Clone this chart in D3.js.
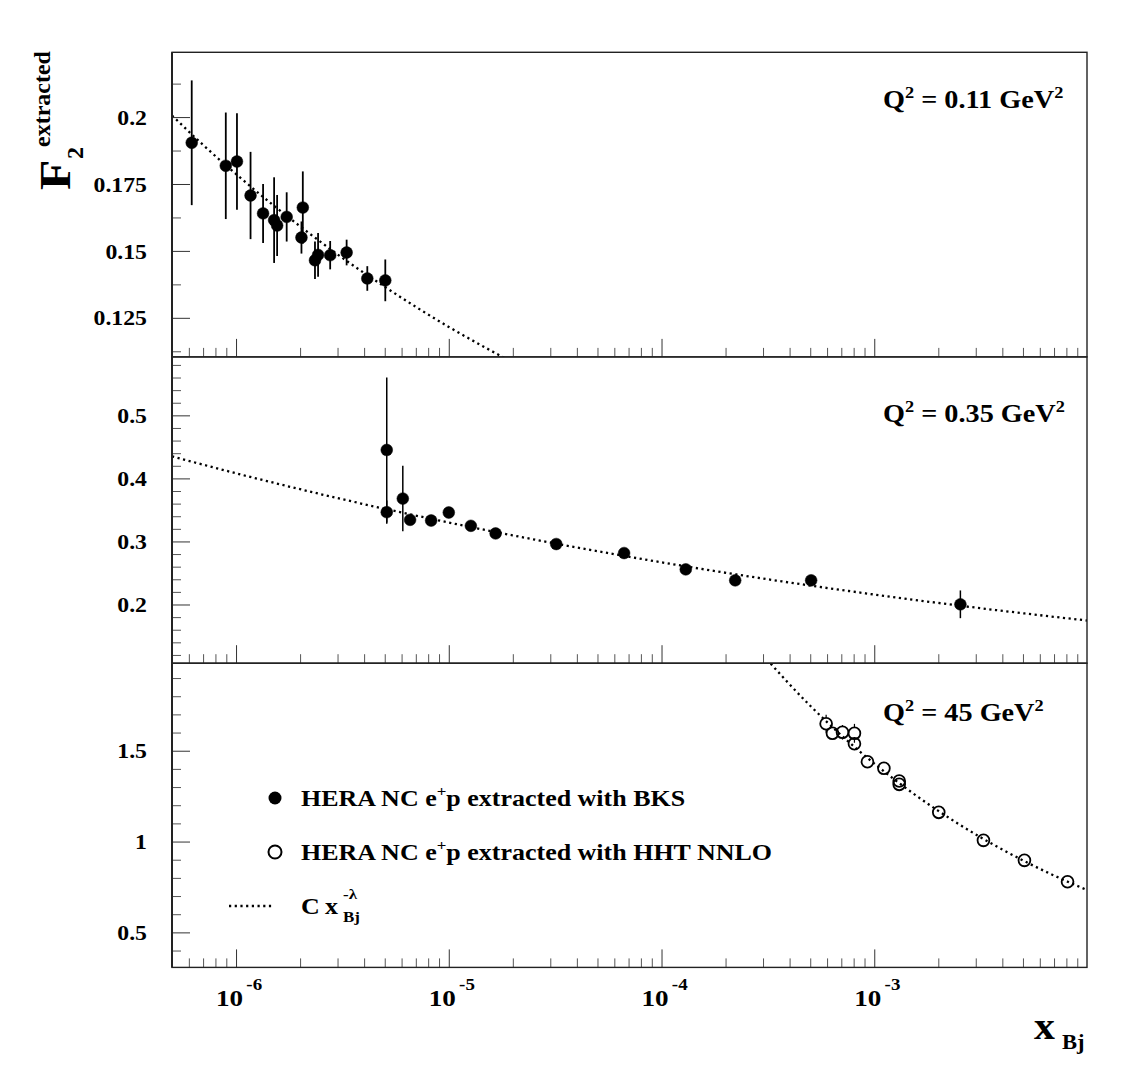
<!DOCTYPE html>
<html><head><meta charset="utf-8">
<script src="https://cdn.jsdelivr.net/npm/d3@7"></script>
<style>
body{margin:0;background:#fff}
text{font-family:"Liberation Serif","Times New Roman",serif;font-weight:bold;fill:#000}
</style>
</head><body>
<svg id="c" width="1121" height="1075"></svg>
<script>
// ---------------- data ----------------
const q2Values = ["0.11", "0.35", "45"];

// Q^2 = 0.11 GeV^2, BKS extraction (filled)
const bksLowX   = [6.19e-7, 8.95e-7, 1.01e-6, 1.17e-6, 1.34e-6, 1.51e-6, 1.56e-6, 1.73e-6, 2.06e-6, 2.03e-6, 2.35e-6, 2.43e-6, 2.77e-6, 3.31e-6, 4.14e-6, 5.03e-6];
const bksLowF   = [0.1904, 0.1818, 0.1834, 0.1707, 0.1640, 0.1615, 0.1595, 0.1627, 0.1662, 0.1550, 0.1465, 0.1485, 0.1484, 0.1494, 0.1397, 0.1390];
const bksLowErr = [0.0233, 0.0199, 0.0180, 0.0163, 0.0110, 0.0160, 0.0114, 0.0092, 0.0135, 0.0060, 0.0070, 0.0082, 0.0053, 0.0048, 0.0046, 0.0078];

// Q^2 = 0.35 GeV^2, BKS extraction (filled)
const bksMidX   = [5.11e-6, 5.11e-6, 6.08e-6, 6.58e-6, 8.26e-6, 1.00e-5, 1.27e-5, 1.66e-5, 3.20e-5, 6.67e-5, 1.30e-4, 2.22e-4, 5.05e-4, 2.54e-3];
const bksMidF   = [0.4451, 0.3465, 0.3680, 0.3343, 0.3332, 0.3459, 0.3248, 0.3127, 0.2959, 0.2816, 0.2557, 0.2383, 0.2383, 0.2003];
const bksMidErr = [0.115, 0.0185, 0.052, 0.006, 0.005, 0.006, 0.005, 0.005, 0.008, 0.006, 0.005, 0.005, 0.006, 0.022];

// Q^2 = 45 GeV^2, HHT NNLO extraction (open)
const hhtX   = [5.94e-4, 6.36e-4, 7.09e-4, 8.07e-4, 8.07e-4, 9.29e-4, 1.11e-3, 1.31e-3, 1.31e-3, 2.01e-3, 3.26e-3, 5.08e-3, 8.10e-3];
const hhtF   = [1.6487, 1.5958, 1.6013, 1.5958, 1.5385, 1.4394, 1.4031, 1.3331, 1.3150, 1.1608, 1.0066, 0.8965, 0.7786];
const hhtErr = [0.050, 0.030, 0.040, 0.052, 0.035, 0.025, 0.020, 0.020, 0.020, 0.020, 0.020, 0.020, 0.020];

// C x^-lambda curves
const fitLowX  = [5e-7, 7e-7, 1e-6, 1.5e-6, 2e-6, 3e-6, 5e-6, 7e-6, 1e-5, 1.5e-5, 2e-5];
const fitLowF  = [0.2006, 0.1896, 0.1787, 0.1670, 0.1592, 0.1487, 0.1366, 0.1291, 0.1216, 0.1137, 0.1083];
const fitMidX  = [5e-7, 1e-6, 3.16e-6, 1e-5, 3.16e-5, 1e-4, 3.16e-4, 1e-3, 3.16e-3, 1e-2];
const fitMidF  = [0.435, 0.4081, 0.3670, 0.3300, 0.2968, 0.2669, 0.2400, 0.2158, 0.1941, 0.1746];
const fitHighX = [3e-4, 5e-4, 7e-4, 1e-3, 1.5e-3, 2e-3, 3.16e-3, 5e-3, 7e-3, 1e-2];
const fitHighF = [2.026, 1.7475, 1.585, 1.4292, 1.2707, 1.169, 1.0236, 0.8962, 0.8129, 0.733];

// axis ticks
const xDomain = [5e-7, 1e-2];
const xMajorTicks = [1e-6, 1e-5, 1e-4, 1e-3];
const xTickExponents = ["-6", "-5", "-4", "-3"];
const yLowDomain  = [0.1104, 0.2242];
const yMidDomain  = [0.1069, 0.5927];
const yHighDomain = [0.3072, 1.9818];
const yLowTicks  = [0.125, 0.15, 0.175, 0.2];
const yLowLabels = ["0.125", "0.15", "0.175", "0.2"];
const yMidTicks  = [0.2, 0.3, 0.4, 0.5];
const yMidLabels = ["0.2", "0.3", "0.4", "0.5"];
const yHighTicks  = [0.5, 1, 1.5];
const yHighLabels = ["0.5", "1", "1.5"];
const yLowMinor  = [0.1125, 0.1375, 0.1625, 0.1875, 0.2125];
const yMidMinor  = [0.12,0.14,0.16,0.18,0.22,0.24,0.26,0.28,0.32,0.34,0.36,0.38,0.42,0.44,0.46,0.48,0.52,0.54,0.56,0.58];
const yHighMinor = [0.4,0.6,0.7,0.8,0.9,1.1,1.2,1.3,1.4,1.6,1.7,1.8,1.9];
const xMinorMantissas = [2,3,4,5,6,7,8,9];
const xMinorDecades = [-7,-6,-5,-4,-3];

const legendLabels = ["HERA NC e", "+", "p extracted with BKS", "p extracted with HHT NNLO"];

// ---------------- layout ----------------
const SX = 1.13;               // horizontal stretch of the original's font
const L = 172, R = 1087;
const panelTop = [52.3, 356.9, 663.2];
const panelBot = [356.9, 663.2, 967.4];
const qLabelBase = [108, 422, 721];

const svg = d3.select("#c");
svg.append("rect").attr("width",1121).attr("height",1075).attr("fill","#fff");

const x = d3.scaleLog().domain(xDomain).range([L, R]);

const zip = (a,b,c) => a.map((v,i)=>({x:v, f:b[i], e: c ? c[i] : 0}));

const panels = [
  {dom:yLowDomain, ticks:yLowTicks, labels:yLowLabels, minor:yLowMinor,
   pts:zip(bksLowX,bksLowF,bksLowErr), open:false, fit:zip(fitLowX,fitLowF)},
  {dom:yMidDomain, ticks:yMidTicks, labels:yMidLabels, minor:yMidMinor,
   pts:zip(bksMidX,bksMidF,bksMidErr), open:false, fit:zip(fitMidX,fitMidF)},
  {dom:yHighDomain, ticks:yHighTicks, labels:yHighLabels, minor:yHighMinor,
   pts:zip(hhtX,hhtF,hhtErr), open:true, fit:zip(fitHighX,fitHighF)}
];

const xMinor = [];
xMinorDecades.forEach(d => xMinorMantissas.forEach(m => {
  const v = m * Math.pow(10, d);
  if (v > xDomain[0]*1.001 && v < xDomain[1]) xMinor.push(v);
}));

function rich(parent, px, py, parts, size, anchor, sx) {
  const g = parent.append("g").attr("transform", `translate(${px},${py}) scale(${sx===undefined?SX:sx},1)`);
  const t = g.append("text").attr("text-anchor", anchor || "start").attr("font-size", size);
  let shift = 0;
  parts.forEach(p => {
    const target = p.sup ? -size*(p.raise||0.42) : p.sub ? size*0.28 : 0;
    const fs = (p.sup || p.sub) ? size*(p.scale||0.65) : size;
    t.append("tspan").attr("dy", target - shift).attr("dx", p.dx||0).attr("font-size", fs).text(p.t);
    shift = target;
  });
  return t;
}

const R_MARK = 5.9;

panels.forEach((p, i) => {
  const y = d3.scaleLinear().domain(p.dom).range([panelBot[i], panelTop[i]]);
  const g = svg.append("g");
  const clipId = "clip" + i;
  svg.append("clipPath").attr("id", clipId).append("rect")
    .attr("x", L).attr("y", panelTop[i]).attr("width", R-L).attr("height", panelBot[i]-panelTop[i]);

  // y ticks (inward)
  g.append("g").attr("transform", `translate(${L},0)`)
    .call(d3.axisLeft(y).tickValues(p.minor).tickSize(-9).tickFormat(""))
    .call(a => a.select(".domain").remove())
    .call(a => a.selectAll("line").attr("stroke","#555").attr("stroke-width",1));
  const ya = g.append("g").attr("transform", `translate(${L},0)`)
    .call(d3.axisLeft(y).tickValues(p.ticks).tickSize(-18).tickPadding(22.2)
      .tickFormat((d,k) => p.labels[k]))
    .call(a => a.select(".domain").remove())
    .call(a => a.selectAll("line").attr("stroke","#333").attr("stroke-width",1));
  ya.selectAll("text").attr("font-size", 21).attr("font-family", null)
    .attr("dy", "0.34em").attr("fill","#000")
    .attr("transform", `scale(${SX},1)`);

  // x ticks (inward, at panel bottom)
  g.append("g").attr("transform", `translate(0,${panelBot[i]})`)
    .call(d3.axisBottom(x).tickValues(xMinor).tickSize(-9).tickFormat(""))
    .call(a => a.select(".domain").remove())
    .call(a => a.selectAll("line").attr("stroke","#555").attr("stroke-width",1));
  g.append("g").attr("transform", `translate(0,${panelBot[i]})`)
    .call(d3.axisBottom(x).tickValues(xMajorTicks).tickSize(-18).tickFormat(""))
    .call(a => a.select(".domain").remove())
    .call(a => a.selectAll("line").attr("stroke","#333").attr("stroke-width",1));

  // fit curve
  const line = d3.line().x(d => x(d.x)).y(d => y(d.f)).curve(d3.curveMonotoneX);
  g.append("path").datum(p.fit).attr("d", line)
    .attr("clip-path", `url(#${clipId})`)
    .attr("fill","none").attr("stroke","#000").attr("stroke-width",2.3)
    .attr("stroke-dasharray","2.2,3.5");

  // error bars
  const eg = g.append("g").attr("stroke","#000");
  if (!p.open) {
    eg.selectAll("line").data(p.pts).join("line")
      .attr("x1", d => x(d.x)).attr("x2", d => x(d.x))
      .attr("y1", d => y(d.f + d.e)).attr("y2", d => y(d.f - d.e))
      .attr("stroke-width", i === 0 ? 1.8 : 1.5);
  } else {
    const segs = [];
    p.pts.forEach(d => {
      const cy = y(d.f), t = y(d.f + d.e), b = y(d.f - d.e);
      if (cy - t > R_MARK) segs.push({x:d.x, y1:t, y2:cy - R_MARK});
      if (b - cy > R_MARK) segs.push({x:d.x, y1:cy + R_MARK, y2:b});
    });
    eg.selectAll("line").data(segs).join("line")
      .attr("x1", d => x(d.x)).attr("x2", d => x(d.x))
      .attr("y1", d => d.y1).attr("y2", d => d.y2).attr("stroke-width", 1.2);
  }

  // markers
  g.append("g").selectAll("circle").data(p.pts).join("circle")
    .attr("cx", d => x(d.x)).attr("cy", d => y(d.f)).attr("r", R_MARK)
    .attr("fill", p.open ? "none" : "#000")
    .attr("stroke", "#000").attr("stroke-width", p.open ? 1.8 : 0.5);

  // frame
  g.append("rect").attr("x", L).attr("y", panelTop[i])
    .attr("width", R-L).attr("height", panelBot[i]-panelTop[i])
    .attr("fill","none").attr("stroke","#222").attr("stroke-width",1.4);
  g.append("line").attr("x1",L).attr("x2",L).attr("y1",panelTop[i]).attr("y2",panelBot[i])
    .attr("stroke","#222").attr("stroke-width",2);

  // Q^2 label
  rich(svg, 883, qLabelBase[i],
    [{t:"Q"},{t:"2",sup:true},{t:" = " + q2Values[i] + " GeV"},{t:"2",sup:true}], 25, "start");
});

// x tick labels 10^k
const xl = svg.append("g");
xMajorTicks.forEach((v, k) => {
  rich(xl, x(v) + 3, 1006, [{t:"10"},{t:xTickExponents[k], sup:true, raise:0.68, scale:0.7, dx:3}], 24, "middle");
});

// axis titles
rich(svg, 1034, 1039, [{t:"x"}], 37, "start");
rich(svg, 1062, 1049, [{t:"Bj"}], 20, "start");

const yt = svg.append("g").attr("transform","translate(70,190) rotate(-90)");
rich(yt, 0, 0, [{t:"F"}], 44, "start");
rich(yt, 31, 13, [{t:"2"}], 24, "start", 1);
rich(yt, 43, -20, [{t:"extracted"}], 24, "start", 1);

// legend
const lg = svg.append("g");
lg.append("circle").attr("cx",275).attr("cy",798).attr("r",6.5).attr("fill","#000");
rich(lg, 301, 806, [{t:legendLabels[0]},{t:legendLabels[1],sup:true},{t:legendLabels[2]}], 23, "start");
lg.append("circle").attr("cx",275).attr("cy",852).attr("r",6.5).attr("fill","none")
  .attr("stroke","#000").attr("stroke-width",2);
rich(lg, 301, 860, [{t:legendLabels[0]},{t:legendLabels[1],sup:true},{t:legendLabels[3]}], 23, "start");
lg.append("line").attr("x1",229).attr("x2",273).attr("y1",906).attr("y2",906)
  .attr("stroke","#000").attr("stroke-width",2.3).attr("stroke-dasharray","2.2,3.5");
rich(lg, 301, 914, [{t:"C"}], 23, "start");
rich(lg, 325, 914, [{t:"x"}], 23, "start");
rich(lg, 343, 899, [{t:"-λ"}], 15, "start");
rich(lg, 343, 922, [{t:"Bj"}], 15, "start");
</script>
</body></html>
